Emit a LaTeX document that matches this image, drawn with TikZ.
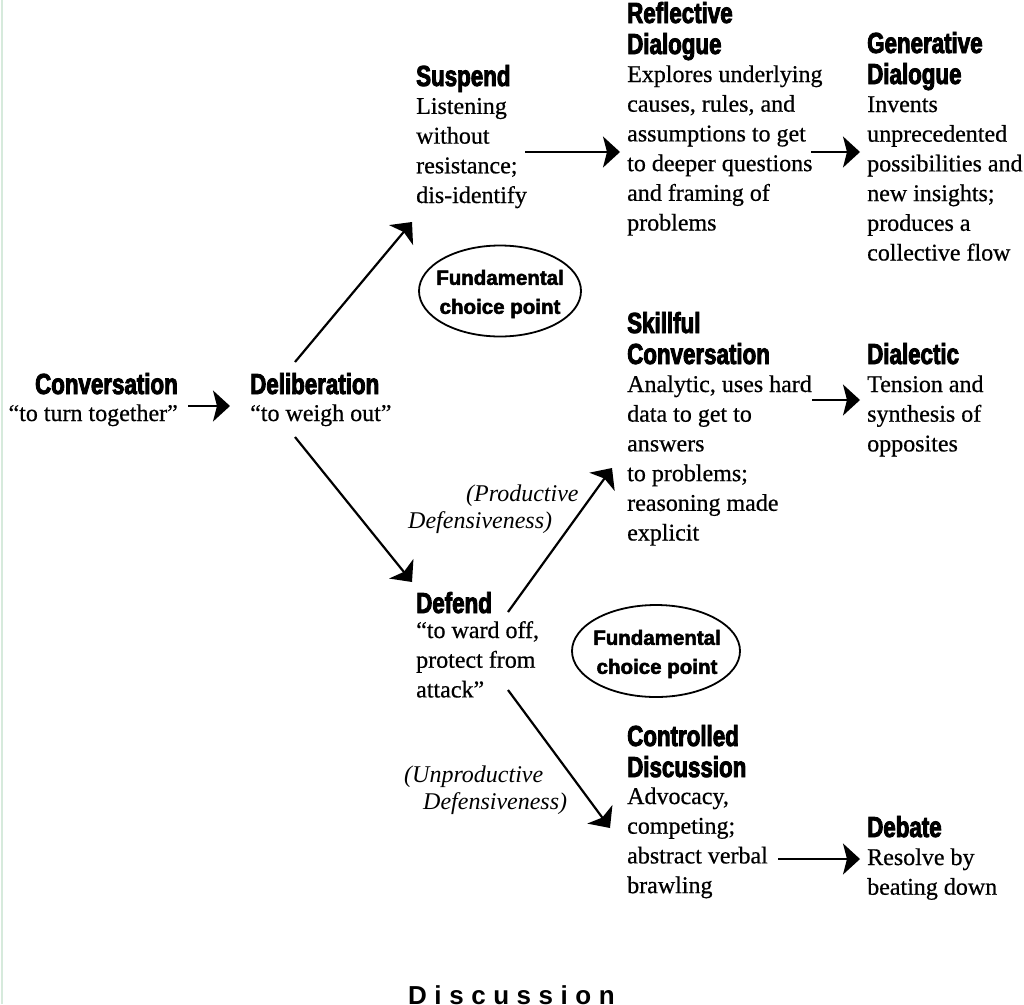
\documentclass[tikz,border=0pt]{standalone}
\usepackage{fontspec}
\setmainfont[UprightFeatures={FakeBold=0.6}]{Liberation Serif}
\newfontfamily\headfont[FakeStretch=0.77,FakeBold=3]{Liberation Sans}
\newfontfamily\ellfont[FakeBold=2.5]{Liberation Sans}
\newfontfamily\discfont[LetterSpace=29]{Liberation Sans}
\usetikzlibrary{arrows.meta}
\begin{document}
\begin{tikzpicture}[x=1pt,y=-1pt,
  head/.style={font=\headfont\bfseries\fontsize{29}{31}\selectfont, inner sep=0pt, anchor=base west, align=left},
  body/.style={font=\fontsize{24}{29.7}\selectfont, inner sep=0pt, anchor=base west, align=left},
  ital/.style={font=\itshape\fontsize{24}{27}\selectfont, inner sep=0pt, anchor=base west, align=left},
  choice/.style={inner sep=0pt, align=center, font=\ellfont\bfseries\fontsize{20.5}{29}\selectfont},
  oval/.style={line width=1.8pt},
  disc/.style={font=\discfont\bfseries\fontsize{26}{30}\selectfont, inner sep=0pt, anchor=base west},
  arr/.style={-{Stealth[length=17pt,width=31pt,inset=4pt]}, line width=2.2pt},
]
\useasboundingbox (0,0) rectangle (1024,1004);
\fill[white] (0,0) rectangle (1024,1004);
\draw[line width=2pt, color={rgb,255:red,214;green,234;blue,220}] (1.5,0) -- (1.5,1004);

% multi-line nodes are placed by the baseline of their last line
\node[head, anchor=base east] (convh) at (178,394) {Conversation};
\node[body, anchor=base east] (convq) at (178,421) {“to turn together”};
\node[head] (delh) at (250,394) {Deliberation};
\node[body] (delq) at (250,421) {“to weigh out”};

\node[head] (sush) at (416,86) {Suspend};
\node[body] (susb) at (416,203) {Listening\\without\\resistance;\\dis-identify};

\node[head] (refh) at (627,54) {Reflective\\Dialogue};
\node[body] (refb) at (627,230.5) {Explores underlying\\causes, rules, and\\assumptions to get\\to deeper questions\\and framing of\\problems};

\node[head] (genh) at (867,84) {Generative\\Dialogue};
\node[body] (genb) at (867,260.5) {Invents\\unprecedented\\possibilities and\\new insights;\\produces a\\collective flow};

\node[choice] (cp1) at (500,294) {Fundamental\\choice point};
\draw[oval] ([yshift=3pt]cp1.center) ellipse [x radius=81pt, y radius=45.5pt];

\node[head] (skh) at (627,364) {Skillful\\Conversation};
\node[body] (skb) at (627,540.5) {Analytic, uses hard\\data to get to\\answers\\to problems;\\reasoning made\\explicit};

\node[head] (dih) at (867,364) {Dialectic};
\node[body] (dib) at (867,451.4) {Tension and\\synthesis of\\opposites};

\node[ital] (prod) at (408,528) {\hspace*{58pt}(Productive\\Defensiveness)};

\node[head] (defh) at (416,613) {Defend};
\node[body] (defb) at (416,697.4) {“to ward off,\\protect from\\attack”};

\node[choice] (cp2) at (657,654) {Fundamental\\choice point};
\draw[oval] ([xshift=-1pt,yshift=3pt]cp2.center) ellipse [x radius=84pt, y radius=46pt];

\node[ital] (unprod) at (404,809) {(Unproductive\\\hspace*{19pt}Defensiveness)};

\node[head] (conh) at (627,777) {Controlled\\Discussion};
\node[body] (conb) at (627,893.1) {Advocacy,\\competing;\\abstract verbal\\brawling};

\node[head] (debh) at (867,837) {Debate};
\node[body] (debb) at (867,894.7) {Resolve by\\beating down};

\node[disc] (disc) at (408,1004) {Discussion};

\draw[arr] ([xshift=10pt,yshift=-12pt]convh.base east) -- ([xshift=-20pt,yshift=-12pt]delh.base west);
\draw[arr] ([xshift=45pt,yshift=32pt]delh.base west) -- ([xshift=-4pt,yshift=-136pt]sush.base west);
\draw[arr] ([xshift=45pt,yshift=-43pt]delh.base west) -- ([xshift=-4pt,yshift=31pt]defh.base west);
\draw[arr] ([xshift=109pt,yshift=-66pt]sush.base west) -- ([xshift=-7pt,yshift=-98pt]refh.base west);
\draw[arr] ([xshift=184pt,yshift=-98pt]refh.base west) -- ([xshift=-7pt,yshift=-68pt]genh.base west);
\draw[arr] ([xshift=185pt,yshift=-36pt]skh.base west) -- ([xshift=-7pt,yshift=-36pt]dih.base west);
\draw[arr] ([xshift=92pt,yshift=1pt]defh.base west) -- ([xshift=-15pt,yshift=-104pt]skh.base west);
\draw[arr] ([xshift=92pt,yshift=-77pt]defh.base west) -- ([xshift=-17pt,yshift=-51pt]conh.base west);
\draw[arr] ([xshift=151pt,yshift=-82pt]conh.base west) -- ([xshift=-7pt,yshift=-22pt]debh.base west);
\end{tikzpicture}
\end{document}
